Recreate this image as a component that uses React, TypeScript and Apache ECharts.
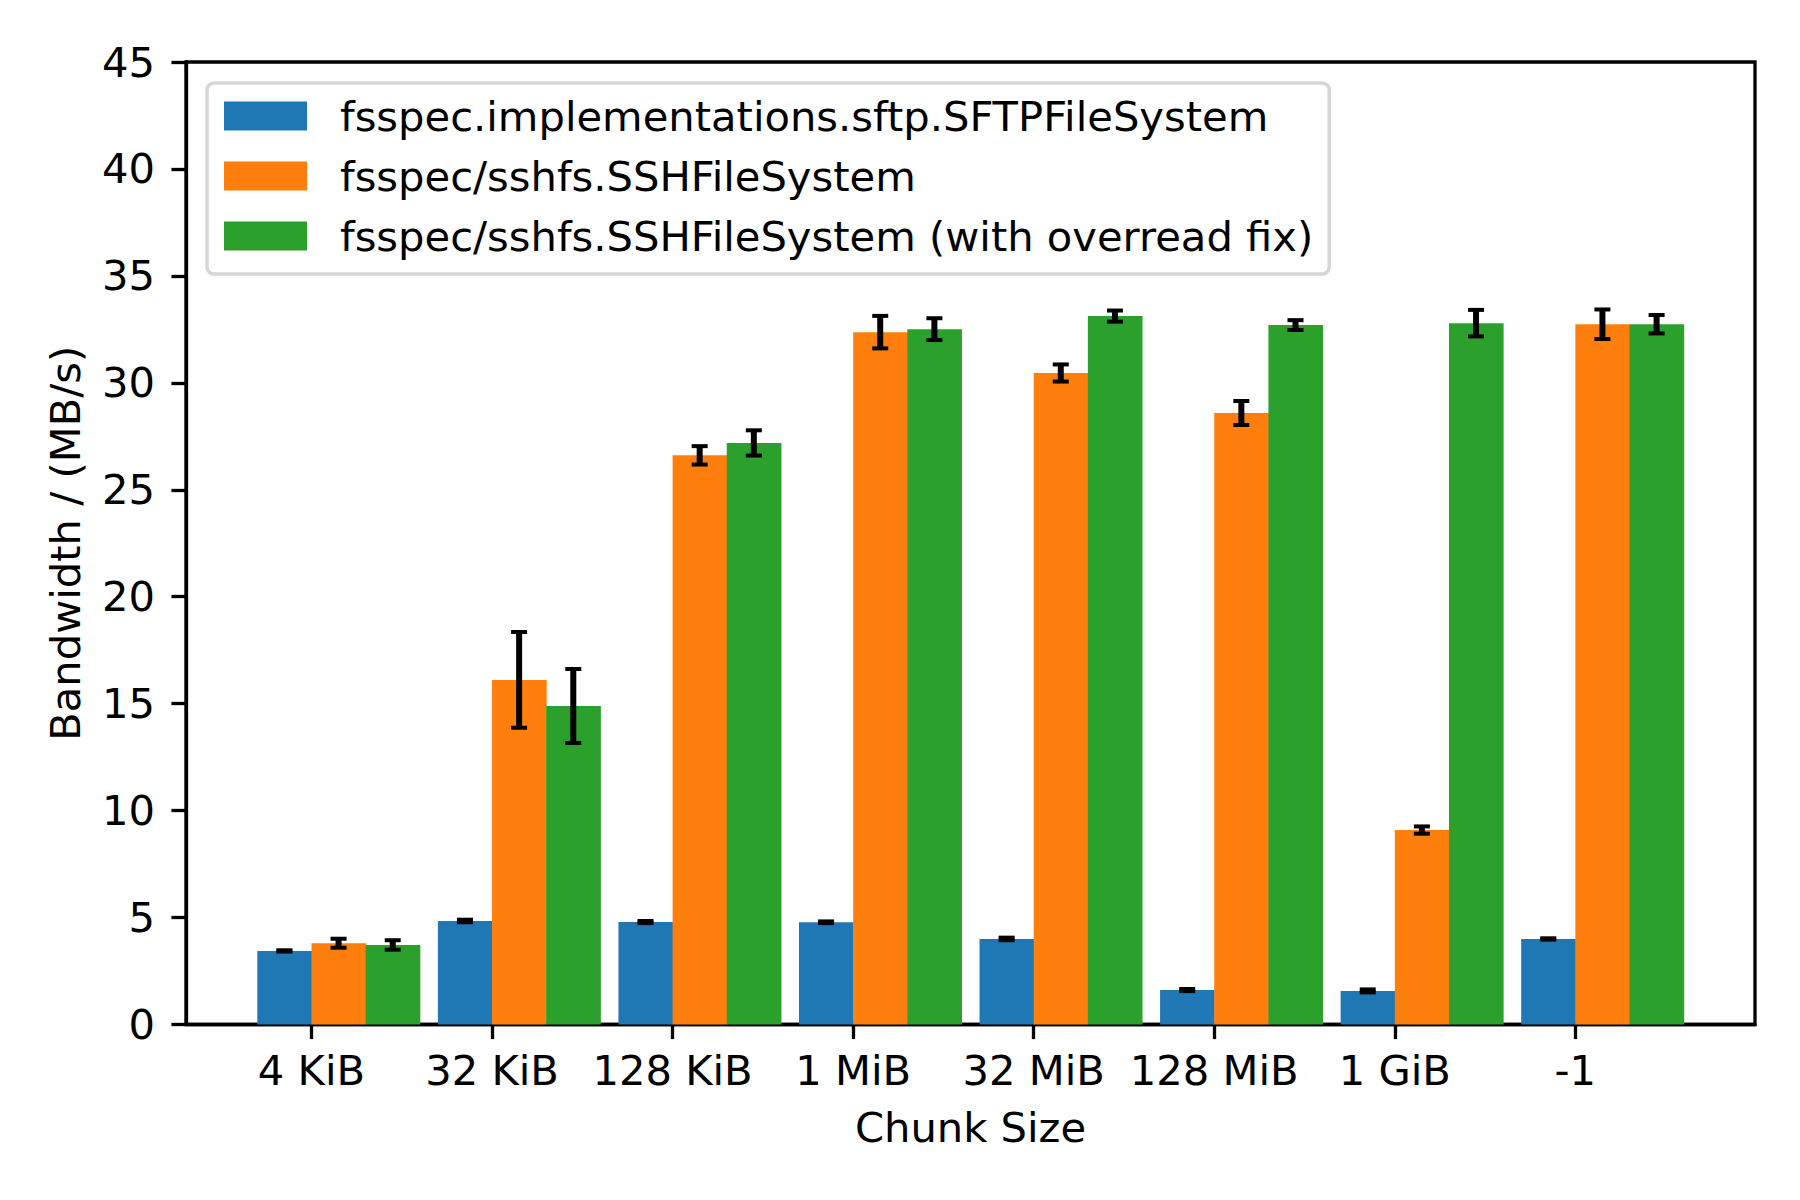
import React, { useEffect, useRef } from "react";
import * as echarts from "echarts";

const categories = ["4 KiB", "32 KiB", "128 KiB", "1 MiB", "32 MiB", "128 MiB", "1 GiB", "-1"];
const seriesNames = [
  "fsspec.implementations.sftp.SFTPFileSystem",
  "fsspec/sshfs.SSHFileSystem",
  "fsspec/sshfs.SSHFileSystem (with overread fix)",
];
const seriesColors = ["#1f77b4", "#ff7f0e", "#2ca02c"];

const sftpValues = [3.44, 4.84, 4.79, 4.78, 4.0, 1.61, 1.57, 4.0];
const sftpErrors = [0.03, 0.06, 0.05, 0.04, 0.06, 0.05, 0.07, 0.03];
const sshfsValues = [3.8, 16.11, 26.61, 32.37, 30.46, 28.59, 9.09, 32.74];
const sshfsErrors = [0.21, 2.24, 0.43, 0.76, 0.4, 0.56, 0.17, 0.69];
const fixValues = [3.72, 14.89, 27.19, 32.51, 33.12, 32.7, 32.79, 32.74];
const fixErrors = [0.22, 1.73, 0.59, 0.51, 0.26, 0.23, 0.62, 0.43];

const tickValues = categories.map((_, i) => i);
const BAR_W = 0.3;
const FONT = "DejaVu Sans";
const FS = 41.67;

function makeSeries(k: number, values: number[], errors: number[]) {
  const offset = (k - 0.5) * BAR_W;
  const color = seriesColors[k];
  return {
    type: "custom",
    name: seriesNames[k],
    itemStyle: { color },
    encode: { x: 0, y: 1 },
    data: values.map((v, i) => [i, v, errors[i]]),
    renderItem: (params: any, api: any) => {
      const cx = api.value(0) + offset;
      const v = api.value(1);
      const e = api.value(2);
      const tl = api.coord([cx - BAR_W / 2, v]);
      const br = api.coord([cx + BAR_W / 2, 0]);
      const c = api.coord([cx, v]);
      const top = api.coord([cx, v + e]);
      const bot = api.coord([cx, v - e]);
      const capW = 16;
      const capH = 4;
      const lineW = 6;
      return {
        type: "group",
        children: [
          {
            type: "rect",
            shape: { x: tl[0], y: tl[1], width: br[0] - tl[0] + 0.5, height: br[1] - tl[1] },
            style: { fill: color },
          },
          {
            type: "rect",
            shape: { x: c[0] - lineW / 2, y: top[1], width: lineW, height: Math.max(bot[1] - top[1], 0.5) },
            style: { fill: "#000" },
          },
          {
            type: "rect",
            shape: { x: c[0] - capW / 2, y: top[1] - capH / 2, width: capW, height: capH },
            style: { fill: "#000" },
          },
          {
            type: "rect",
            shape: { x: c[0] - capW / 2, y: bot[1] - capH / 2, width: capW, height: capH },
            style: { fill: "#000" },
          },
        ],
      };
    },
  };
}

export default function App() {
  const ref = useRef<HTMLDivElement>(null);
  useEffect(() => {
    document.body.style.margin = "0";
    if (!ref.current) return;
    const chart = echarts.init(ref.current, null, { renderer: "svg" });
    chart.setOption({
      animation: false,
      backgroundColor: "#ffffff",
      textStyle: { fontFamily: FONT, color: "#000" },
      grid: {
        left: 186,
        right: 45,
        top: 62,
        bottom: 175.5,
        show: true,
        borderColor: "#000",
        borderWidth: 3.3,
        containLabel: false,
        outerBoundsMode: "none",
      },
      legend: {
        orient: "vertical",
        left: 207,
        top: 83,
        padding: [12, 16, 17, 17],
        itemWidth: 83,
        itemHeight: 29,
        itemGap: 18,
        icon: "rect",
        selectedMode: false,
        backgroundColor: "rgba(255,255,255,0.8)",
        borderColor: "#d6d6d6",
        borderWidth: 3.5,
        borderRadius: 7,
        itemStyle: { borderWidth: 0 },
        textStyle: {
          fontFamily: FONT,
          fontSize: FS,
          color: "#000",
          lineHeight: 29,
          padding: [0, 0, 0, 28],
        },
        data: seriesNames,
      },
      xAxis: {
        type: "value",
        min: -0.695,
        max: 7.995,
        name: "Chunk Size",
        nameLocation: "middle",
        nameGap: 82,
        nameTextStyle: { fontFamily: FONT, fontSize: FS, color: "#000" },
        splitLine: { show: false },
        axisLine: { show: true, onZero: false, lineStyle: { color: "#000", width: 3.3 } },
        axisTick: { show: true, length: 14.6, inside: false, lineStyle: { color: "#000", width: 3.3 }, customValues: tickValues },
        axisLabel: {
          fontFamily: FONT,
          fontSize: FS,
          color: "#000",
          margin: 25,
          customValues: tickValues,
          formatter: (v: number) => categories[Math.round(v)] ?? "",
        },
      },
      yAxis: {
        type: "value",
        min: 0,
        max: 45,
        interval: 5,
        name: "Bandwidth / (MB/s)",
        nameLocation: "middle",
        nameGap: 100,
        nameTextStyle: { fontFamily: FONT, fontSize: FS, color: "#000" },
        splitLine: { show: false },
        axisLine: { show: true, onZero: false, lineStyle: { color: "#000", width: 3.3 } },
        axisTick: { show: true, length: 14.6, inside: false, lineStyle: { color: "#000", width: 3.3 } },
        axisLabel: { fontFamily: FONT, fontSize: FS, color: "#000", margin: 31 },
      },
      series: [
        makeSeries(0, sftpValues, sftpErrors),
        makeSeries(1, sshfsValues, sshfsErrors),
        makeSeries(2, fixValues, fixErrors),
      ],
    });
    return () => chart.dispose();
  }, []);
  return <div ref={ref} style={{ width: 1800, height: 1200 }} />;
}
